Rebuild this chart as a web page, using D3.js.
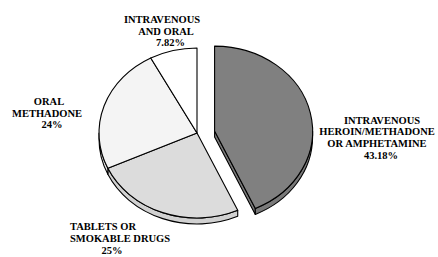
<!DOCTYPE html>
<html>
<head>
<meta charset="utf-8">
<script src="https://cdn.jsdelivr.net/npm/d3@7"></script>
<style>
  html, body { margin: 0; padding: 0; background: #fff; }
  text { font-family: "Liberation Serif", "Times New Roman", Times, serif; font-weight: bold; font-size: 10.5px; fill: #000; }
</style>
</head>
<body>
<svg id="chart"></svg>
<script>
// slice data, clockwise from 12 o'clock
const categories = ["INTRAVENOUS HEROIN/METHADONE OR AMPHETAMINE", "TABLETS OR SMOKABLE DRUGS", "ORAL METHADONE", "INTRAVENOUS AND ORAL"]
const values = [43.18, 25, 24, 7.82]
const valueLabels = ["43.18%", "25%", "24%", "7.82%"]
const labelLines = [
    ["INTRAVENOUS", "HEROIN/METHADONE", "OR AMPHETAMINE"],
    ["TABLETS OR", "SMOKABLE DRUGS"],
    ["ORAL", "METHADONE"],
    ["INTRAVENOUS", "AND ORAL"]
]
const colors = ["#808080", "#dcdcdc", "#f4f4f4", "#ffffff"]
const exploded = [true, false, false, false]

function showData(){

    const w = 438
    const h = 257
    const cx = 197, cy = 133
    const rx = 98, ry = 85
    const depth = 6
    const explode = 18

    // label anchors (line x centres + first baseline), hand placed like the original
    const labelLayout = [
        {xs: [382, 377, 377, 381], y: 123.5, lh: 11.7, anchor: "middle"},
        {xs: [70, 70, 112], y: 230, lh: 12, anchor: ["start", "start", "middle"]},
        {xs: [49, 47, 52], y: 105, lh: 11.5, anchor: "middle"},
        {xs: [162, 166, 170.5], y: 23.3, lh: 11.3, anchor: "middle"}
    ]

    const svg = d3.select("#chart")
        .attr("width", w)
        .attr("height", h)

    const pie = d3.pie().sort(null).startAngle(0).endAngle(2 * Math.PI)
    const arcs = pie(values)

    const color = d3.scaleOrdinal().domain(categories).range(colors)

    // point on the tilted ellipse, angle clockwise from top
    const pt = (c, a, dy = 0) => [c[0] + rx * Math.sin(a), c[1] - ry * Math.cos(a) + dy]

    function topPath(c, a0, a1){
        const p0 = pt(c, a0), p1 = pt(c, a1)
        const large = (a1 - a0) > Math.PI ? 1 : 0
        return `M${c[0]},${c[1]}L${p0}A${rx},${ry} 0 ${large} 1 ${p1}Z`
    }

    function wallPath(c, a0, a1){
        const s = Math.max(a0, Math.PI / 2), e = Math.min(a1, 3 * Math.PI / 2)
        if (e <= s) return null
        const p0 = pt(c, s), p1 = pt(c, e)
        const q0 = pt(c, s, depth), q1 = pt(c, e, depth)
        return `M${p0}A${rx},${ry} 0 0 1 ${p1}L${q1}A${rx},${ry} 0 0 0 ${q0}Z`
    }

    function endFacePath(c, a){
        const p = pt(c, a), q = pt(c, a, depth)
        return `M${c[0]},${c[1]}L${p}L${q}L${c[0]},${c[1] + depth}Z`
    }

    const slices = arcs.map((d, i) => {
        const mid = (d.startAngle + d.endAngle) / 2
        const off = exploded[i] ? [explode * Math.sin(mid), -explode * Math.cos(mid) * 0.5] : [0, 0]
        return {d, i, c: [cx + off[0], cy + off[1]], fill: color(categories[i])}
    })

    const g = svg.append("g")
        .attr("stroke", "#000")
        .attr("stroke-width", 1.1)
        .attr("stroke-linejoin", "round")

    slices.forEach(s => {
        const side = d3.color(s.fill).darker(0.15).formatHex()
        // end cut face is only visible when the slice stands apart
        if (exploded[s.i] && Math.sin(s.d.endAngle) > 0) {
            g.append("path").attr("d", endFacePath(s.c, s.d.endAngle)).attr("fill", side)
        }
        const wp = wallPath(s.c, s.d.startAngle, s.d.endAngle)
        if (wp) g.append("path").attr("d", wp).attr("fill", side)
    })

    slices.forEach(s => {
        g.append("path")
            .attr("class", "slice")
            .attr("d", topPath(s.c, s.d.startAngle, s.d.endAngle))
            .attr("fill", s.fill)
    })

    // labels
    labelLines.forEach((lines, i) => {
        const lay = labelLayout[i]
        const all = lines.concat([valueLabels[i]])
        const t = svg.append("text")
        all.forEach((line, j) => {
            t.append("tspan")
                .attr("x", lay.xs[j])
                .attr("y", lay.y + j * lay.lh)
                .attr("text-anchor", Array.isArray(lay.anchor) ? lay.anchor[j] : lay.anchor)
                .text(line)
        })
    })
}

document.addEventListener("DOMContentLoaded", showData)
</script>
</body>
</html>
